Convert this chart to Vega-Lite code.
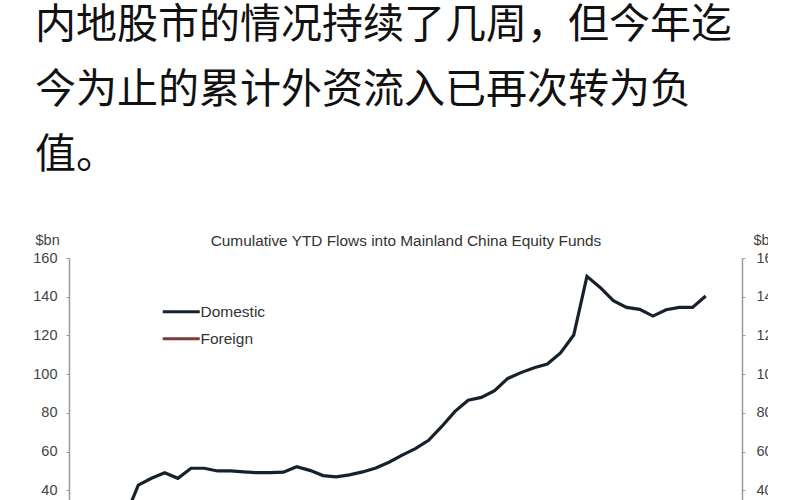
{
  "$schema": "https://vega.github.io/schema/vega-lite/v6.json",
  "width": 673,
  "height": 242,
  "autosize": {"type": "none"},
  "padding": {"left": 69, "top": 258, "right": 26, "bottom": 0},
  "background": "white",
  "title": {
    "text": ["内地股市的情况持续了几周，但今年迄", "今为止的累计外资流入已再次转为负", "值。"],
    "anchor": "start",
    "frame": "group",
    "font": "Noto Sans CJK SC",
    "fontSize": 41,
    "fontWeight": "normal",
    "color": "#111111",
    "lineHeight": 65,
    "dx": -34,
    "offset": 55
  },
  "data": {
    "values": [
      {"week": 5, "flow": 26, "series": "Domestic"},
      {"week": 6, "flow": 42.7, "series": "Domestic"},
      {"week": 7, "flow": 46.2, "series": "Domestic"},
      {"week": 8, "flow": 49.1, "series": "Domestic"},
      {"week": 9, "flow": 46.2, "series": "Domestic"},
      {"week": 10, "flow": 51.4, "series": "Domestic"},
      {"week": 11, "flow": 51.4, "series": "Domestic"},
      {"week": 12, "flow": 50.0, "series": "Domestic"},
      {"week": 13, "flow": 50.0, "series": "Domestic"},
      {"week": 14, "flow": 49.5, "series": "Domestic"},
      {"week": 15, "flow": 49.1, "series": "Domestic"},
      {"week": 16, "flow": 49.1, "series": "Domestic"},
      {"week": 17, "flow": 49.4, "series": "Domestic"},
      {"week": 18, "flow": 52.2, "series": "Domestic"},
      {"week": 19, "flow": 50.3, "series": "Domestic"},
      {"week": 20, "flow": 47.6, "series": "Domestic"},
      {"week": 21, "flow": 47.0, "series": "Domestic"},
      {"week": 22, "flow": 48.0, "series": "Domestic"},
      {"week": 23, "flow": 49.5, "series": "Domestic"},
      {"week": 24, "flow": 51.5, "series": "Domestic"},
      {"week": 25, "flow": 54.5, "series": "Domestic"},
      {"week": 26, "flow": 58.2, "series": "Domestic"},
      {"week": 27, "flow": 61.5, "series": "Domestic"},
      {"week": 28, "flow": 65.8, "series": "Domestic"},
      {"week": 29, "flow": 73.0, "series": "Domestic"},
      {"week": 30, "flow": 80.8, "series": "Domestic"},
      {"week": 31, "flow": 86.5, "series": "Domestic"},
      {"week": 32, "flow": 88.0, "series": "Domestic"},
      {"week": 33, "flow": 91.5, "series": "Domestic"},
      {"week": 34, "flow": 97.8, "series": "Domestic"},
      {"week": 35, "flow": 100.8, "series": "Domestic"},
      {"week": 36, "flow": 103.3, "series": "Domestic"},
      {"week": 37, "flow": 105.2, "series": "Domestic"},
      {"week": 38, "flow": 111.0, "series": "Domestic"},
      {"week": 39, "flow": 120.2, "series": "Domestic"},
      {"week": 40, "flow": 150.5, "series": "Domestic"},
      {"week": 41, "flow": 144.8, "series": "Domestic"},
      {"week": 42, "flow": 138.0, "series": "Domestic"},
      {"week": 43, "flow": 134.5, "series": "Domestic"},
      {"week": 44, "flow": 133.5, "series": "Domestic"},
      {"week": 45, "flow": 130.0, "series": "Domestic"},
      {"week": 46, "flow": 133.3, "series": "Domestic"},
      {"week": 47, "flow": 134.5, "series": "Domestic"},
      {"week": 48, "flow": 134.5, "series": "Domestic"},
      {"week": 49, "flow": 140.4, "series": "Domestic"}
    ]
  },
  "encoding": {
    "x": {
      "field": "week",
      "type": "quantitative",
      "title": "Cumulative YTD Flows into Mainland China Equity Funds",
      "scale": {"domain": [0.75, 51.75], "nice": false, "zero": false},
      "axis": {
        "orient": "top",
        "labels": false,
        "ticks": false,
        "domain": false,
        "grid": false,
        "titleFont": "Liberation Sans",
        "titleFontSize": 15.4,
        "titleFontWeight": "normal",
        "titleColor": "#333333",
        "titleY": -18,
        "titleBaseline": "middle"
      }
    }
  },
  "layer": [
    {
      "mark": {"type": "line", "strokeWidth": 3.2, "clip": true},
      "encoding": {
        "y": {
          "field": "flow",
          "type": "quantitative",
          "title": "$bn",
          "scale": {"domain": [35, 160], "nice": false, "zero": false},
          "axis": {
            "orient": "left",
            "values": [40, 60, 80, 100, 120, 140, 160],
            "labelPadding": 9,
            "titleAngle": 0,
            "titleAlign": "left",
            "titleBaseline": "middle",
            "titleX": -34,
            "titleY": -18
          }
        },
        "color": {
          "field": "series",
          "type": "nominal",
          "scale": {"domain": ["Domestic", "Foreign"], "range": ["#17212e", "#7a3b3b"]},
          "legend": {
            "title": null,
            "orient": "none",
            "legendX": 91,
            "legendY": 46,
            "symbolType": "M-1,0H6.4",
            "symbolSize": 100,
            "symbolStrokeWidth": 3,
            "labelOffset": 25,
            "rowPadding": 10,
            "labelFont": "Liberation Sans",
            "labelFontSize": 15.5,
            "labelColor": "#333333"
          }
        }
      }
    },
    {
      "mark": {"type": "line", "strokeOpacity": 0},
      "encoding": {
        "y": {
          "field": "flow",
          "type": "quantitative",
          "title": "$bn",
          "scale": {"domain": [35, 160], "nice": false, "zero": false},
          "axis": {
            "orient": "right",
            "values": [40, 60, 80, 100, 120, 140, 160],
            "labelPadding": 11,
            "titleAngle": 0,
            "titleAlign": "left",
            "titleBaseline": "middle",
            "titleX": 11,
            "titleY": -18
          }
        }
      }
    }
  ],
  "resolve": {"scale": {"y": "independent"}},
  "config": {
    "view": {"stroke": null},
    "axis": {
      "grid": false,
      "domainColor": "#9a9a9a",
      "domainWidth": 1.5,
      "tickColor": "#9a9a9a",
      "tickSize": 3,
      "labelFont": "Liberation Sans",
      "labelFontSize": 14.5,
      "labelColor": "#444444",
      "titleFont": "Liberation Sans",
      "titleFontSize": 14.5,
      "titleFontWeight": "normal",
      "titleColor": "#444444"
    }
  }
}
